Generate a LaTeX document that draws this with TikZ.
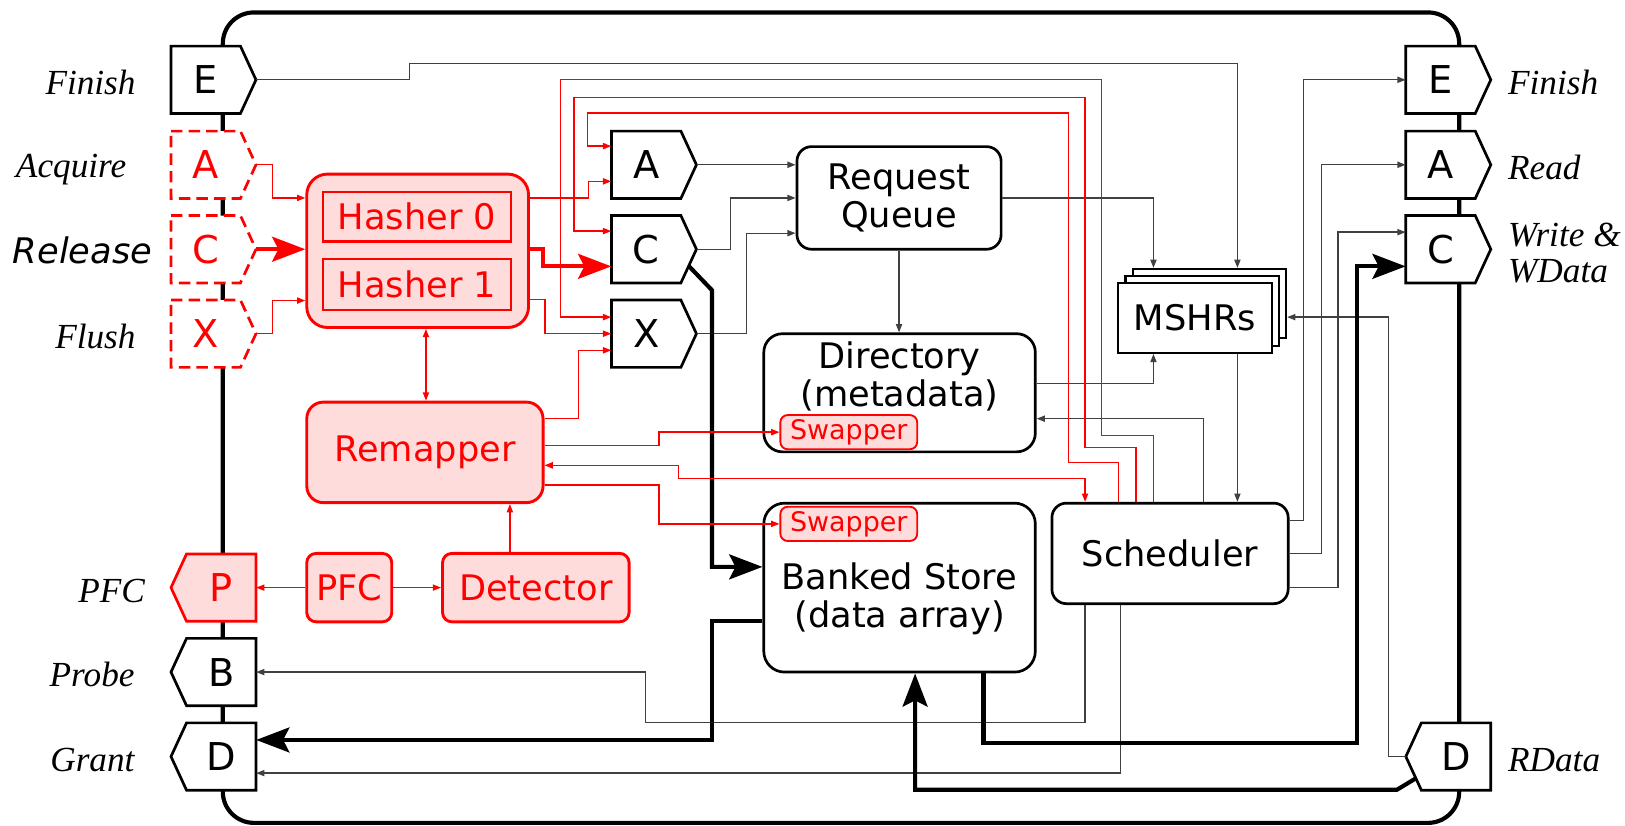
\documentclass[tikz,border=0pt]{standalone}
\usepackage{fontspec}
\setmainfont{DejaVu Sans}
\newfontfamily\serifit{Liberation Serif}
\usetikzlibrary{arrows.meta,calc}

\definecolor{rfill}{HTML}{FFDCDC}
\colorlet{wire}{black!75}

\newcommand\boxfont{\fontsize{34pt}{37pt}\selectfont}
\newcommand\portfont{\fontsize{37pt}{40pt}\selectfont}
\newcommand\swfont{\fontsize{26pt}{28pt}\selectfont}
\newcommand\itlblfont{\serifit\itshape\fontsize{34pt}{37pt}\selectfont}
\newcommand\relfont{\itshape\fontsize{34pt}{37pt}\selectfont}

\tikzset{
  smtip/.tip={Triangle[length=8pt,width=6pt]},
  bigtip/.tip={Stealth[length=32pt,width=24pt,inset=6pt]},
  frame/.style={line width=4pt, rounded corners=30pt},
  bwire/.style={draw=wire, line width=1.3pt, -smtip},
  rwire/.style={draw=red, line width=1.3pt, -smtip},
  rwirebi/.style={draw=red, line width=1.3pt, smtip-smtip},
  bbus/.style={draw=black, line width=4pt, -bigtip},
  rbus/.style={draw=red, line width=4pt, -bigtip},
  blkbox/.style={draw=black, line width=2.6pt, fill=white, rounded corners=#1,
    font=\boxfont, align=center, inner sep=0pt},
  blkbox/.default=14pt,
  redbox/.style={draw=red, line width=2.8pt, fill=rfill, text=red, rounded corners=#1,
    font=\boxfont, align=center, inner sep=0pt},
  redbox/.default=14pt,
  swbox/.style={draw=red, line width=1.8pt, fill=rfill, text=red, rounded corners=7pt,
    minimum width=132pt, minimum height=33pt, inner sep=0pt, font=\swfont},
  mshr/.style={draw=black, line width=2pt, fill=white, minimum width=148pt,
    minimum height=67pt, inner sep=0pt},
  portnode/.style={minimum width=82pt, minimum height=65pt, inner sep=0pt, font=\portfont},
  pblack/.style={draw=black, fill=white, line width=2.6pt},
  pdash/.style={draw=red, fill=white, line width=2.6pt, dash pattern=on 11pt off 6pt},
  pred/.style={draw=red, fill=rfill, line width=2.6pt},
  lbl/.style={font=\itlblfont, inner sep=0pt},
  txt/.style={font=\boxfont, align=center, inner sep=0pt},
}

% port pointing right: name, centre, outline style, letter colour, letter
\newcommand\portR[5]{%
  \draw[#3] ($#2+(-41,-32.5)$) -- ($#2+(26,-32.5)$) -- ($#2+(41,0)$)
    -- ($#2+(26,32.5)$) -- ($#2+(-41,32.5)$) -- cycle;
  \node[portnode, text=#4] (#1) at #2 {\hspace*{-15pt}#5};}
% port pointing left
\newcommand\portL[5]{%
  \draw[#3] ($#2+(41,-32.5)$) -- ($#2+(-26,-32.5)$) -- ($#2+(-41,0)$)
    -- ($#2+(-26,32.5)$) -- ($#2+(41,32.5)$) -- cycle;
  \node[portnode, text=#4] (#1) at #2 {#5\hspace*{-15pt}};}

\begin{document}
\begin{tikzpicture}[x=1pt,y=-1pt]
\useasboundingbox (0,0) rectangle (1568,797);

% outer cache boundary
\draw[frame] (215,12) rectangle (1408,794);

% channel ports
\portR{lE}{(206,77)}{pblack}{black}{E}
\portR{lA}{(206,159)}{pdash}{red}{A}
\portR{lC}{(206,240.5)}{pdash}{red}{C}
\portR{lX}{(206,322)}{pdash}{red}{X}
\portL{lP}{(206,567)}{pred}{red}{P}
\portL{lB}{(206,648.5)}{pblack}{black}{B}
\portL{lD}{(206,730)}{pblack}{black}{D}
\portR{mA}{(631,159)}{pblack}{black}{A}
\portR{mC}{(631,240.5)}{pblack}{black}{C}
\portR{mX}{(631,322)}{pblack}{black}{X}
\portR{rE}{(1397.5,77)}{pblack}{black}{E}
\portR{rA}{(1397.5,159)}{pblack}{black}{A}
\portR{rC}{(1397.5,240.5)}{pblack}{black}{C}
\portL{rD}{(1397.5,730)}{pblack}{black}{D}

% red (added) blocks
\node[redbox=20pt, minimum width=214pt, minimum height=148pt] (hash) at (403,242) {};
\node[redbox=0pt, line width=2pt, minimum width=181pt, minimum height=48pt] (h0) at (402.5,209) {Hasher 0};
\node[redbox=0pt, line width=2pt, minimum width=181pt, minimum height=49pt] (h1) at (402.5,274.5) {Hasher 1};
\node[redbox=16pt, minimum width=228pt, minimum height=97pt] (remap) at (410,436.5) {Remapper};
\node[redbox=9pt, minimum width=82pt, minimum height=66pt] (pfc) at (337,567) {PFC};
\node[redbox=9pt, minimum width=180pt, minimum height=66pt] (det) at (517,567) {Detector};

% cache blocks
\node[blkbox=14pt, minimum width=197pt, minimum height=99pt] (rq) at (867.5,191) {Request\\Queue};
\node[blkbox=18pt, minimum width=262pt, minimum height=114pt] (dir) at (868,379) {};
\node[txt] (dirtxt) at (868,363) {Directory\\(metadata)};
\node[swbox] (dsw) at (819,417) {Swapper};
\node[blkbox=20pt, minimum width=262pt, minimum height=163pt] (bank) at (868,567) {};
\node[txt, text depth=0pt] (banktxt) at (868,574) {Banked Store\\(data array)};
\node[swbox] (bsw) at (819,505.5) {Swapper};
\node[blkbox=14pt, minimum width=228pt, minimum height=97pt] (sched) at (1129,534) {Scheduler};
\node[mshr] (mshrb) at (1167,293) {};
\node[mshr] (mshrm) at (1160,300) {};
\node[mshr, font=\boxfont] (mshrf) at (1153,307) {MSHRs};

% control wires
\draw[bwire] (lE.east) -| (395,61) -| (mshrb.north -| 1194,0);
\draw[bwire] (mA.east) -- (rq.west |- 0,159);
\draw[bwire] (mC.east) -| (705,191) -- (rq.west |- 0,191);
\draw[bwire] (mX.east) -| (720,225) -- (rq.west |- 0,225);
\draw[bwire] (rq.east) -| (mshrb.north -| 1113,0);
\draw[bwire] (rq.south) -- (rq.south |- dir.north);
\draw[bwire] (dir.east |- 0,370) -| (mshrf.south -| 1113,0);
\draw[bwire] (mshrf.south -| 1194,0) -- (sched.north -| 1194,0);
\draw[bwire] (sched.north -| 1161,0) |- (dir.east |- 0,404);
\draw[bwire] (rD.west) -| (1340,306) -- (mshrb.east |- 0,306);
\draw[bwire] (sched.east |- 0,502) -| (1258,77) -- (rE.west);
\draw[bwire] (sched.east |- 0,534) -| (1275,159) -- (rA.west);
\draw[bwire] (sched.east |- 0,567) -| (1291,224) -- (rC.west |- 0,224);
\draw[bwire] (sched.south -| 1047,0) |- (623,697) |- (lB.east);
\draw[bwire] (sched.south -| 1081,0) |- (lD.east |- 0,746);

% data buses
\coordinate (cslant) at ($(mC.east)+(-7.5,16.25)$);
\draw[bbus] (cslant) -- (687,280) |- (bank.west |- 0,547);
\draw[bbus] (bank.west |- 0,599) -| (687,714) -- (lD.east |- 0,714);
\draw[bbus] (bank.south -| 949,0) |- (1309,717) |- (rC.west |- 0,257);
\coordinate (dslant) at ($(rD.west)+(9.75,21.1)$);
\draw[bbus] (dslant) -- (1348,762) -| (bank.south -| 883,0);

% red wires
\draw[rwire] (lA.east) -| (263,191) -- (hash.west |- 0,191);
\draw[rbus] (lC.east) -- (hash.west |- 0,240.5);
\draw[rwire] (lX.east) -| (263,290) -- (hash.west |- 0,290);
\draw[rwire] (hash.east |- 0,191) -| (568,175) -- (mA.west |- 0,175);
\draw[rbus] (hash.east |- 0,240) -| (524,257) -- (mC.west |- 0,257);
\draw[rwire] (hash.east |- 0,289) -| (526,322) -- (mX.west);
\draw[rwirebi] (hash.south -| 411,0) -- (remap.north -| 411,0);
\draw[rwire] (det.north -| 492,0) -- (remap.south -| 492,0);
\draw[rwire] (pfc.west) -- (lP.east);
\draw[rwire] (pfc.east) -- (det.west);
\draw[rwire] (remap.east |- 0,404) -| (558,338) -- (mX.west |- 0,338);
\draw[rwire] (remap.east |- 0,430) -| (636,417) -- (dsw.west);
\draw[rwirebi] (remap.east |- 0,449) -| (655,462) -| (sched.north -| 1047,0);
\draw[rwire] (remap.east |- 0,468) -| (636,505.5) -- (bsw.west);
\draw[rwire] (sched.north -| 1079,0) |- (1031,446) |- (567,109) |- (mA.west |- 0,141);
\draw[rwire] (sched.north -| 1096,0) |- (1047,432) |- (554,94) |- (mC.west |- 0,223);
\draw[rwire] (sched.north -| 1113,0) |- (1063,420) |- (541,77) |- (mX.west |- 0,306);

% channel names
\node[lbl, anchor=base east] (tFinL) at (131,91) {Finish};
\node[lbl, anchor=base east] (tAcq) at (122,171) {Acquire};
\node[font=\relfont, inner sep=0pt, anchor=base east] (tRel) at (147,254) {Release};
\node[lbl, anchor=base east] (tFlu) at (131,336) {Flush};
\node[lbl, anchor=base east] (tPFC) at (140,581) {PFC};
\node[lbl, anchor=base east] (tPro) at (130,662) {Probe};
\node[lbl, anchor=base east] (tGra) at (130,744) {Grant};
\node[lbl, anchor=base west] (tFinR) at (1455,91) {Finish};
\node[lbl, anchor=base west] (tRea) at (1455,173) {Read};
\node[lbl, anchor=base west] (tWr) at (1455,238) {Write \&};
\node[lbl, anchor=base west] (tWd) at (1455,273) {WData};
\node[lbl, anchor=base west] (tRd) at (1455,744) {RData};
\end{tikzpicture}
\end{document}
